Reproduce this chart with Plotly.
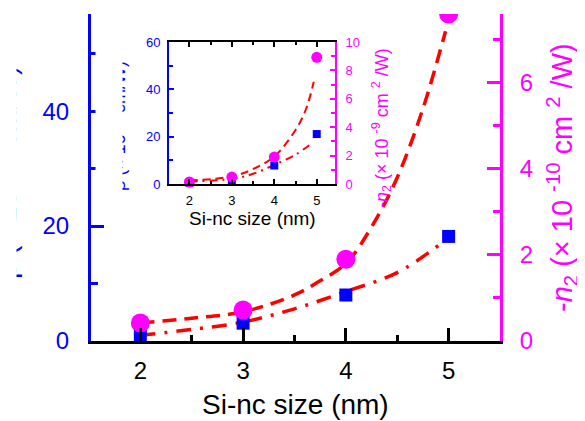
import plotly.graph_objects as go

# ---------------- data ----------------
size_nm = [2, 3, 4, 5]
beta_main = [1.0, 3.1, 8.0, 18.2]          # left axis, blue squares
n2_main = [0.42, 0.72, 1.9, 7.6]           # right axis, magenta circles

fit_beta_x = [2.0, 2.5, 3.0, 3.5, 4.0, 4.5, 4.93]
fit_beta_y = [1.0, 2.0, 3.3, 5.6, 8.6, 11.9, 17.0]
fit_n2_x = [2.0, 2.5, 3.0, 3.5, 3.75, 4.0, 4.25, 4.5, 4.75, 4.97]
fit_n2_y = [0.42, 0.53, 0.68, 1.07, 1.40, 1.80, 2.65, 3.80, 5.40, 7.20]

beta_inset = [0.5, 1.0, 7.8, 21.1]
n2_inset = [0.14, 0.49, 1.9, 8.92]
ifit_beta_x = [2.0, 3.0, 3.5, 4.0, 4.5, 4.89]
ifit_beta_y = [1.1, 2.1, 4.3, 8.1, 12.4, 17.3]
ifit_n2_x = [2.0, 3.0, 3.5, 4.0, 4.5, 4.75, 4.93]
ifit_n2_y = [0.25, 0.53, 1.05, 1.94, 3.8, 5.3, 7.2]

x_ticks = [2, 3, 4, 5]

BLUE = "#0000FF"
MAG = "#FF00FF"
RED = "#FF0000"
FONT = "Liberation Sans, Arial, sans-serif"

# page offset of the figure (default body margin) and plot-area geometry in page pixels
OFF = 8
L, T, W, H = 91, 14, 409, 327


def px(xp):
    return (xp - L) / W


def py(yp):
    return (T + H - yp) / H


fig = go.Figure()

# main plot fits
fig.add_trace(go.Scatter(x=fit_beta_x, y=fit_beta_y, mode="lines", xaxis="x", yaxis="y",
                         line=dict(color=RED, width=3.5, dash="15px,9px,3px,9px", shape="spline"),
                         showlegend=False))
fig.add_trace(go.Scatter(x=fit_n2_x, y=fit_n2_y, mode="lines", xaxis="x", yaxis="y2",
                         line=dict(color=RED, width=3.5, dash="14px,8px", shape="spline"),
                         showlegend=False))
fig.add_trace(go.Scatter(x=size_nm, y=beta_main, mode="markers", xaxis="x", yaxis="y",
                         marker=dict(symbol="square", size=13, color=BLUE),
                         showlegend=False))
fig.add_trace(go.Scatter(x=size_nm, y=n2_main, mode="markers", xaxis="x", yaxis="y2",
                         marker=dict(symbol="circle", size=19, color=MAG),
                         showlegend=False))

# inset
fig.add_trace(go.Scatter(x=ifit_beta_x, y=ifit_beta_y, mode="lines", xaxis="x2", yaxis="y3",
                         line=dict(color=RED, width=2, dash="8px,5px,2px,5px", shape="spline"),
                         showlegend=False, cliponaxis=False))
fig.add_trace(go.Scatter(x=ifit_n2_x, y=ifit_n2_y, mode="lines", xaxis="x2", yaxis="y4",
                         line=dict(color=RED, width=2, dash="8px,5px", shape="spline"),
                         showlegend=False, cliponaxis=False))
fig.add_trace(go.Scatter(x=size_nm, y=beta_inset, mode="markers", xaxis="x2", yaxis="y3",
                         marker=dict(symbol="square", size=8, color=BLUE),
                         showlegend=False, cliponaxis=False))
fig.add_trace(go.Scatter(x=size_nm, y=n2_inset, mode="markers", xaxis="x2", yaxis="y4",
                         marker=dict(symbol="circle", size=11, color=MAG),
                         showlegend=False, cliponaxis=False))

ix0, ix1 = px(169), px(335)
iy0, iy1 = py(184), py(42)

fig.update_layout(
    width=585, height=421,
    margin=dict(l=L - OFF, r=585 - (L - OFF) - W, t=T - OFF, b=421 - (T - OFF) - H, autoexpand=False),
    paper_bgcolor="white", plot_bgcolor="white",
    font=dict(family=FONT),
    xaxis=dict(range=[1.52, 5.5], tickvals=x_ticks, showgrid=False, zeroline=False,
               showline=True, linecolor="black", linewidth=2.5,
               ticks="inside", ticklen=13, tickwidth=2.5, tickcolor="black",
               minor=dict(ticks="inside", ticklen=6, tickwidth=2.5, tickcolor="black", dtick=0.5),
               tickfont=dict(size=24, color="black"), ticklabelstandoff=6, automargin=False),
    yaxis=dict(range=[0, 56.9], dtick=20, showgrid=False, zeroline=False,
               showline=True, linecolor=BLUE, linewidth=3,
               ticks="inside", ticklen=13, tickwidth=2.5, tickcolor=BLUE,
               minor=dict(ticks="inside", ticklen=7, tickwidth=2.5, tickcolor=BLUE, dtick=10),
               tickfont=dict(size=24, color=BLUE), ticklabelstandoff=14, automargin=False),
    yaxis2=dict(range=[0, 7.6], dtick=2, overlaying="y", side="right", anchor="x",
                showgrid=False, zeroline=False,
                showline=True, linecolor=MAG, linewidth=3,
                ticks="inside", ticklen=13, tickwidth=2.5, tickcolor=MAG,
                minor=dict(ticks="inside", ticklen=7, tickwidth=2.5, tickcolor=MAG, dtick=1),
                tickfont=dict(size=24, color=MAG), ticklabelstandoff=12, automargin=False),
    xaxis2=dict(domain=[ix0, ix1], anchor="y3", range=[1.52, 5.43], tickvals=x_ticks,
                showgrid=False, zeroline=False, showline=True, linecolor="black", linewidth=2,
                mirror="ticks", ticks="inside", ticklen=5, tickwidth=1.5, tickcolor="black",
                minor=dict(ticks="inside", ticklen=3, tickwidth=1.5, tickcolor="black", dtick=0.5),
                tickfont=dict(size=13, color="black"), ticklabelstandoff=3, automargin=False),
    yaxis3=dict(domain=[iy0, iy1], anchor="x2", range=[0, 60], dtick=20,
                showgrid=False, zeroline=False, showline=True, linecolor=BLUE, linewidth=2,
                ticks="inside", ticklen=5, tickwidth=1.5, tickcolor=BLUE,
                minor=dict(ticks="inside", ticklen=4, tickwidth=1.5, tickcolor=BLUE, dtick=10),
                tickfont=dict(size=13, color=BLUE), ticklabelstandoff=4, automargin=False),
    yaxis4=dict(domain=[iy0, iy1], anchor="x2", overlaying="y3", side="right",
                range=[0, 10], dtick=2, showgrid=False, zeroline=False,
                showline=True, linecolor=MAG, linewidth=2,
                ticks="inside", ticklen=5, tickwidth=1.5, tickcolor=MAG,
                minor=dict(ticks="inside", ticklen=4, tickwidth=1.5, tickcolor=MAG, dtick=1),
                tickfont=dict(size=13, color=MAG), ticklabelstandoff=6, automargin=False),
)

ann = []
# main x title
ann.append(dict(text="Si-nc size (nm)", xref="paper", yref="paper", x=px(295), y=py(404),
                showarrow=False, font=dict(size=28, color="black"), xanchor="center", yanchor="middle"))
# main right title
ann.append(dict(text="-<i>n</i><sub>2</sub> (× 10 <sup>-10</sup> cm <sup>2</sup> /W)",
                xref="paper", yref="paper", x=px(562), y=py(178), textangle=-90,
                showarrow=False, font=dict(size=29, color=MAG), xanchor="center", yanchor="middle"))
# main left title (mostly cut off in the original)
ann.append(dict(text="β (× 10 <sup>-10</sup> cm/W)",
                xref="paper", yref="paper", x=px(4), y=py(173), textangle=-90,
                showarrow=False, font=dict(size=28, color=BLUE), xanchor="center", yanchor="middle"))
ann.append(dict(text=" ", xref="paper", yref="paper", x=px(-12), y=py(173), width=27, height=280,
                bgcolor="white", borderpad=0, showarrow=False, xanchor="left", yanchor="middle"))
# inset x title
ann.append(dict(text="Si-nc size (nm)", xref="paper", yref="paper", x=px(252), y=py(218),
                showarrow=False, font=dict(size=19, color="black"), xanchor="center", yanchor="middle"))
# inset right title
ann.append(dict(text="-<i>n</i><sub>2</sub> (× 10 <sup>-9</sup> cm <sup>2</sup> /W)",
                xref="paper", yref="paper", x=px(381), y=py(128), textangle=-90,
                showarrow=False, font=dict(size=18, color=MAG), xanchor="center", yanchor="middle"))
# inset left title (left half hidden in the original)
ann.append(dict(text="β (× 10 <sup>-9</sup> cm/W)",
                xref="paper", yref="paper", x=px(117), y=py(126), textangle=-90,
                showarrow=False, font=dict(size=18, color=BLUE), xanchor="center", yanchor="middle"))
ann.append(dict(text=" ", xref="paper", yref="paper", x=px(95), y=py(127), width=26, height=150,
                bgcolor="white", borderpad=0, showarrow=False, xanchor="left", yanchor="middle"))

fig.update_layout(annotations=ann)

fig.write_html("out.html")
